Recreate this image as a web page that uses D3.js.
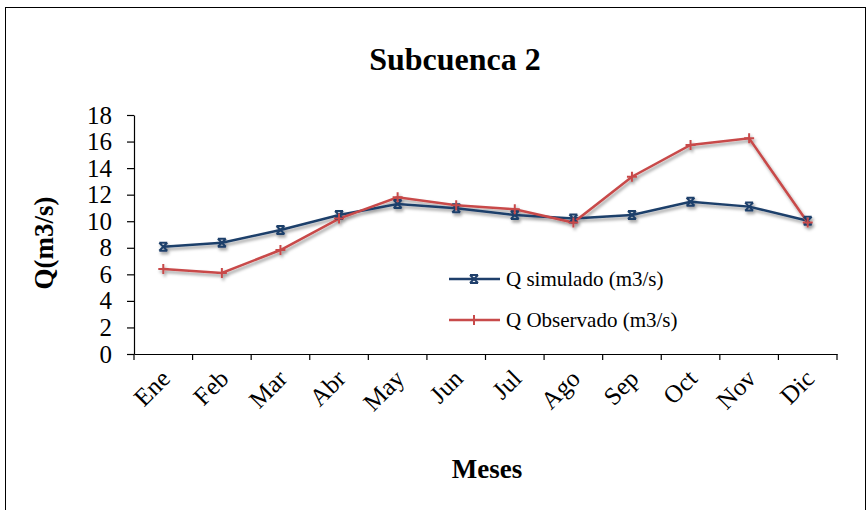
<!DOCTYPE html>
<html><head><meta charset="utf-8">
<script src="https://cdn.jsdelivr.net/npm/d3@7"></script>
<style>body{margin:0;background:#fff}svg{display:block}</style>
</head><body><svg id="c" width="867" height="510" font-family="Liberation Serif, Times New Roman, serif"></svg>
<script>
const months = ["Ene","Feb","Mar","Abr","May","Jun","Jul","Ago","Sep","Oct","Nov","Dic"];
const simulado = [8.08,8.38,9.34,10.47,11.3,10.97,10.47,10.2,10.47,11.47,11.1,10.04];
const observado = [6.4,6.1,7.83,10.2,11.8,11.2,10.9,9.9,13.35,15.74,16.24,9.9];
const yTicks = [0,2,4,6,8,10,12,14,16,18];
const seriesNames = ["Q simulado (m3/s)","Q Observado (m3/s)"];
const FF = "Liberation Serif, Times New Roman, serif";

const svg = d3.select("#c");
const defs = svg.append("defs");
const f = defs.append("filter").attr("id","sh").attr("x","-20%").attr("y","-20%").attr("width","140%").attr("height","140%");
f.append("feDropShadow").attr("dx",1.5).attr("dy",2.5).attr("stdDeviation",1.8).attr("flood-color","#000").attr("flood-opacity",0.4);

svg.append("rect").attr("x",5.5).attr("y",7.5).attr("width",860).attr("height",520).attr("fill","none").attr("stroke","#000").attr("stroke-width",1);

const L=134, R=837, T=115, B=354;
const x = d3.scaleBand().domain(months).range([L,R]);
const y = d3.scaleLinear().domain([0,18]).range([B,T]);

// y axis
const ya = svg.append("g").attr("transform",`translate(${L},0)`)
  .call(d3.axisLeft(y).tickValues(yTicks).tickSize(7).tickPadding(15).tickSizeOuter(0))
  .attr("font-family",FF).attr("font-size",25);
ya.selectAll("text").attr("fill","#000");
ya.selectAll("line,path").attr("stroke","#000").attr("stroke-width",1.2);

// x axis
const xa = svg.append("g").attr("transform",`translate(0,${B})`)
  .call(d3.axisBottom(x).tickSize(0).tickFormat(""));
xa.select("path").attr("stroke","#000").attr("stroke-width",1.2);
xa.selectAll(".tick").remove();
const bounds = months.map(m=>x(m)).concat([R]);
svg.append("g").selectAll("line").data(bounds).join("line")
  .attr("x1",d=>d).attr("x2",d=>d).attr("y1",B).attr("y2",B+6).attr("stroke","#000").attr("stroke-width",1.2);
svg.append("g").attr("font-family",FF).attr("font-size",25).selectAll("text").data(months).join("text")
  .attr("transform",d=>`translate(${x(d)+x.bandwidth()/2+2},${B+20}) rotate(-45)`)
  .attr("text-anchor","end").attr("dy","0.35em").text(d=>d);

// lines
const line = d3.line().x((d,i)=>x(months[i])+x.bandwidth()/2).y(d=>y(d));
const cols = ["#1f3f6b","#c84a4a"];
const g = svg.append("g").attr("filter","url(#sh)");
[simulado,observado].forEach((s,k)=>{
  g.append("path").datum(s).attr("d",line).attr("fill","none").attr("stroke",cols[k]).attr("stroke-width",2.5);
});
function xMark(sel,cx,cy,c){
  sel.append("path").attr("d",`M${cx-4},${cy-4}L${cx+4},${cy+4}M${cx-4},${cy+4}L${cx+4},${cy-4}M${cx-4},${cy-4}H${cx+4}M${cx-4},${cy+4}H${cx+4}`)
    .attr("stroke",c).attr("stroke-width",2).attr("fill","none");
}
function pMark(sel,cx,cy,c){
  sel.append("path").attr("d",`M${cx-5},${cy}H${cx+5}M${cx},${cy-5}V${cy+5}`)
    .attr("stroke",c).attr("stroke-width",2).attr("fill","none");
}
simulado.forEach((v,i)=>xMark(g,x(months[i])+x.bandwidth()/2,y(v),cols[0]));
observado.forEach((v,i)=>pMark(g,x(months[i])+x.bandwidth()/2,y(v),cols[1]));

// legend
const lg = svg.append("g").attr("font-family",FF);
[279,320].forEach((ly,k)=>{
  lg.append("line").attr("x1",449).attr("x2",500).attr("y1",ly).attr("y2",ly).attr("stroke",cols[k]).attr("stroke-width",2.5);
  if(k===0) xMark(lg,474,ly,cols[0]); else pMark(lg,474,ly,cols[1]);
  lg.append("text").attr("x",506).attr("y",ly).attr("dy","0.35em").attr("font-size",21).text(seriesNames[k]);
});

// titles
svg.append("text").attr("x",455).attr("y",70).attr("text-anchor","middle").attr("font-family",FF).attr("font-size",32).attr("font-weight","bold").text("Subcuenca 2");
svg.append("text").attr("transform","translate(44,243) rotate(-90)").attr("text-anchor","middle").attr("dy","0.35em").attr("font-family",FF).attr("font-size",27).attr("font-weight","bold").text("Q(m3/s)");
svg.append("text").attr("x",487).attr("y",478).attr("text-anchor","middle").attr("font-family",FF).attr("font-size",27).attr("font-weight","bold").text("Meses");
</script></body></html>
